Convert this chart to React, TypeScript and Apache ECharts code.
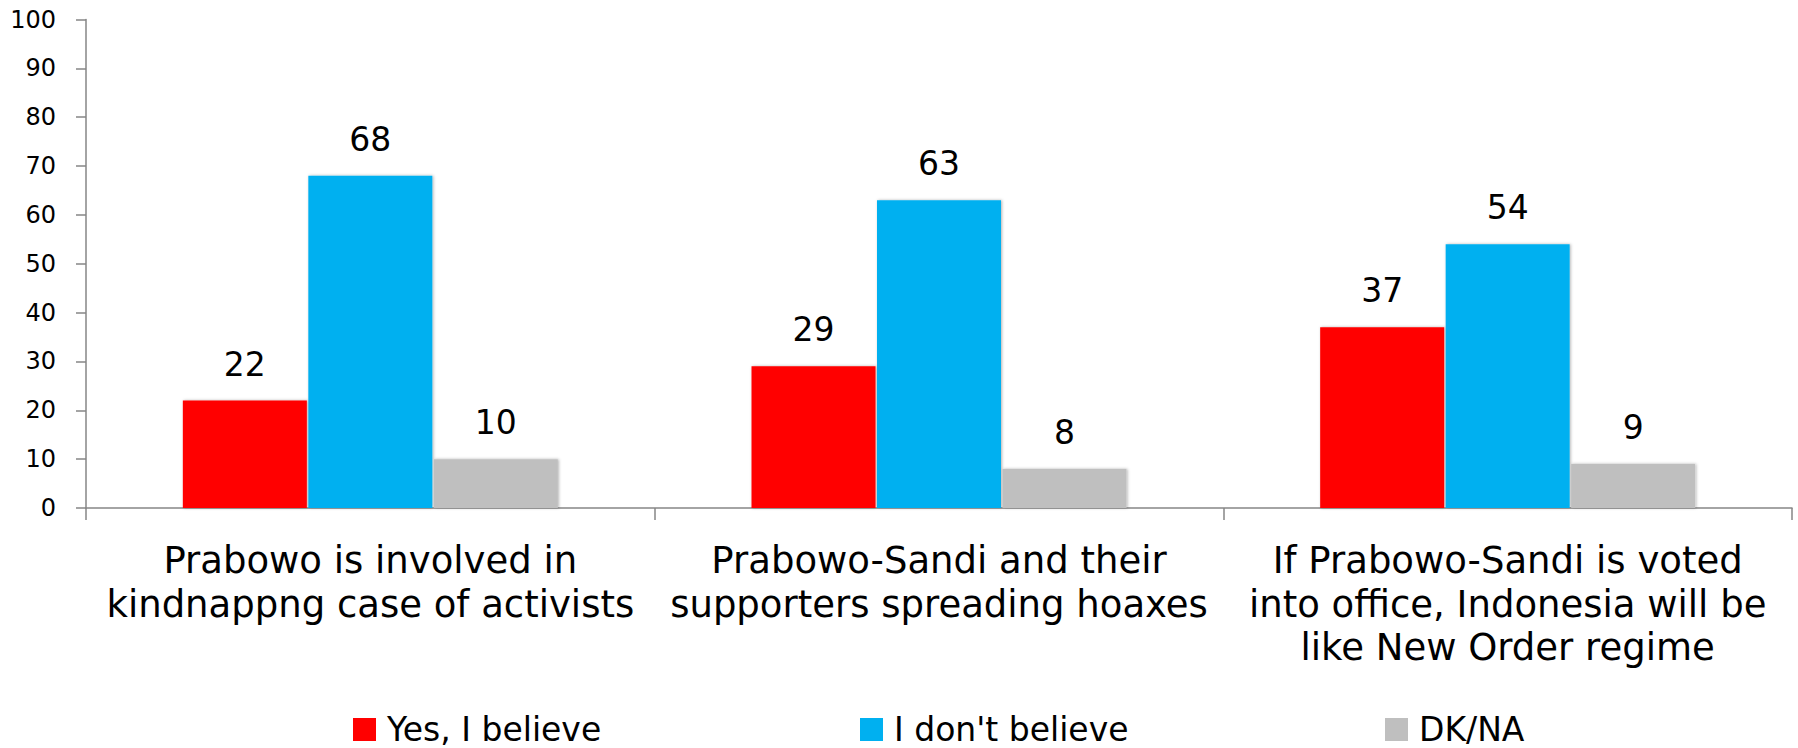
import React, { useEffect, useRef } from "react";
import * as echarts from "echarts";

const categories = [
  "Prabowo is involved in\nkindnappng case of activists",
  "Prabowo-Sandi and their\nsupporters spreading hoaxes",
  "If Prabowo-Sandi is voted\ninto office, Indonesia will be\nlike New Order regime",
];
const seriesNames = ["Yes, I believe", "I don't believe", "DK/NA"];
const yesValues = [22, 29, 37];
const noValues = [68, 63, 54];
const dkValues = [10, 8, 9];
const seriesColors = ["#FF0000", "#00B0F0", "#BFBFBF"];
const yMin = 0;
const yMax = 100;
const yInterval = 10;

const FONT = "DejaVu Sans";

export default function App() {
  const ref = useRef<HTMLDivElement>(null);
  useEffect(() => {
    if (!ref.current) return;
    const chart = echarts.init(ref.current, undefined, { renderer: "svg" });
    const values = [yesValues, noValues, dkValues];
    const legendLefts = [353, 860, 1385];
    const option: any = {
      animation: false,
      backgroundColor: "#ffffff",
      textStyle: { fontFamily: FONT },
      grid: { left: 86, right: 6, top: 19.5, bottom: 240, containLabel: false },
      legend: seriesNames.map((n, i) => ({
        data: [n],
        left: legendLefts[i],
        top: 713,
        padding: 0,
        itemWidth: 23,
        itemHeight: 23,
        icon: "rect",
        selectedMode: false,
        textStyle: {
          fontFamily: FONT,
          fontSize: 33,
          color: "#000",
          lineHeight: 28,
          padding: [0, 0, 0, 6],
        },
      })),
      xAxis: {
        type: "category",
        data: categories,
        axisLine: { lineStyle: { color: "#868686", width: 1.5 } },
        axisTick: { show: true, length: 12, interval: 0, lineStyle: { color: "#868686", width: 1.5 } },
        axisLabel: {
          interval: 0,
          margin: 31,
          fontFamily: FONT,
          fontSize: 37,
          lineHeight: 43.5,
          color: "#000",
          align: "center",
        },
        splitLine: { show: false },
      },
      yAxis: {
        type: "value",
        min: yMin,
        max: yMax,
        interval: yInterval,
        axisLine: { show: true, lineStyle: { color: "#868686", width: 1.5 } },
        axisTick: { show: true, length: 10, lineStyle: { color: "#868686", width: 1.5 } },
        axisLabel: { fontFamily: FONT, fontSize: 24, color: "#000", margin: 30 },
        splitLine: { show: false },
      },
      series: seriesNames.map((n, i) => ({
        name: n,
        type: "bar",
        data: values[i],
        barWidth: 124,
        barGap: "1.2%",
        itemStyle: {
          color: seriesColors[i],
          shadowBlur: 3,
          shadowColor: "rgba(0,0,0,0.3)",
          shadowOffsetX: 1,
          shadowOffsetY: 0,
        },
        label: {
          show: true,
          position: "top",
          distance: 20,
          fontFamily: FONT,
          fontSize: 33,
          lineHeight: 33,
          color: "#000",
        },
      })),
    };
    chart.setOption(option);
    return () => chart.dispose();
  }, []);
  return (
    <div
      ref={ref}
      style={{ position: "absolute", left: 0, top: 0, width: 1798, height: 748, background: "#fff" }}
    />
  );
}
